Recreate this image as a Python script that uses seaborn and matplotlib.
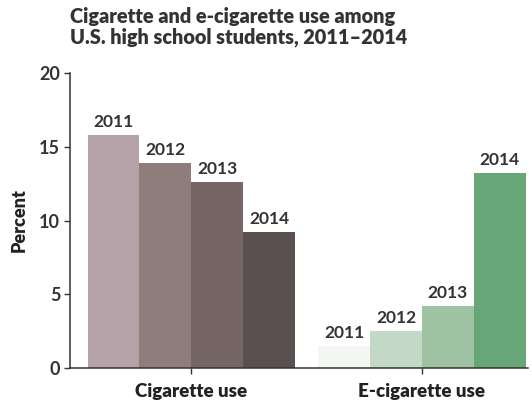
import matplotlib
matplotlib.use("Agg")
import matplotlib.pyplot as plt
import seaborn as sns
import pandas as pd

categories = ["Cigarette use", "E-cigarette use"]
years = ["2011", "2012", "2013", "2014"]
cigarette = [15.8, 13.9, 12.6, 9.2]
ecigarette = [1.5, 2.5, 4.2, 13.2]
yticks = [0, 5, 10, 15, 20]

cig_colors = ["#b5a2a8", "#8f7d7c", "#766565", "#5a5050"]
ecig_colors = ["#f3f6f3", "#c4d9c5", "#9fc3a2", "#66a677"]

rows = []
for y, v in zip(years, cigarette):
    rows.append({"cat": categories[0], "year": y, "val": v})
for y, v in zip(years, ecigarette):
    rows.append({"cat": categories[1], "year": y, "val": v})
df = pd.DataFrame(rows)

sns.set_theme(style="white")
plt.rcParams["font.family"] = ["Lato", "DejaVu Sans"]

fig = plt.figure(figsize=(5.32, 4.04), dpi=100)
ax = fig.add_axes([70/532, 1 - 368/404, 458/532, 295/404])

sns.barplot(data=df, x="cat", y="val", hue="year", order=categories,
            hue_order=years, width=0.9, gap=0, ax=ax, legend=False,
            saturation=1)

for hi, cont in enumerate(ax.containers):
    for ci, bar in enumerate(cont):
        col = cig_colors[hi] if ci == 0 else ecig_colors[hi]
        bar.set_facecolor(col)
        bar.set_edgecolor("none")
        h = bar.get_height()
        cx = bar.get_x() + bar.get_width() / 2
        ax.text(cx, h + 0.35, years[hi], ha="center", va="bottom",
                fontsize=12.5, fontweight="bold", color="#333333")

ax.set_xlim(-0.526, 1.46)
ax.set_ylim(0, 20)
ax.set_yticks(yticks)
ax.set_yticklabels([str(t) for t in yticks], fontsize=13, fontweight="bold",
                   color="#333333")
ax.set_xticks([0, 1])
ax.set_xticklabels(categories, fontsize=13.5, fontweight="heavy", color="#222222")
ax.set_xlabel("")
ax.set_ylabel("Percent", fontsize=13, fontweight="heavy", color="#222222",
              labelpad=8)
ax.tick_params(axis="both", which="both", length=4, width=1, color="#333333",
               direction="out", left=True, bottom=True)
ax.tick_params(axis="x", pad=7)
ax.tick_params(axis="y", pad=3)
sns.despine(ax=ax)
for s in ["left", "bottom"]:
    ax.spines[s].set_color("#333333")
    ax.spines[s].set_linewidth(1.1)

fig.text(70/532, 1 - 7/404,
         "Cigarette and e-cigarette use among\nU.S. high school students, 2011–2014",
         ha="left", va="top", fontsize=14.3, fontweight="heavy", color="#333333",
         linespacing=1.08)

fig.savefig("out.png", dpi=100, facecolor="white")
